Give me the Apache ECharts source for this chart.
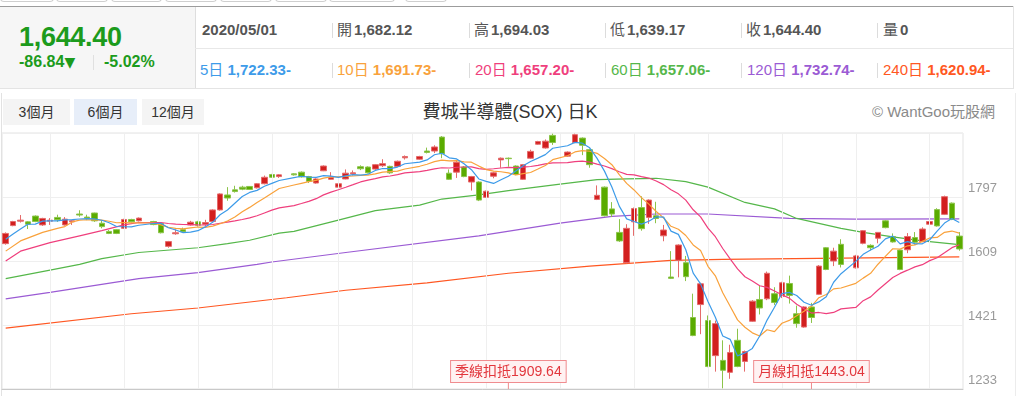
<!DOCTYPE html>
<html><head><meta charset="utf-8">
<script src="https://cdn.jsdelivr.net/npm/echarts/dist/echarts.min.js"></script>
<style>
body{margin:0;width:1023px;height:396px;overflow:hidden;background:#fff;position:relative;font-family:"Liberation Sans",Arial,"Noto Sans CJK TC",sans-serif}
.a{position:absolute;white-space:nowrap}
.tab{position:absolute;top:-4px;height:5px;border:1px solid #cfcfcf;border-top:none;border-radius:0 0 4px 4px;background:#fff}
.r1{top:21px;height:18px;line-height:18px;font-size:15px;color:#555}
.r2{top:61px;height:18px;line-height:18px;font-size:15px}
.r1 b,.r2 b{font-weight:bold}
.r1 b.v{margin-left:2px}
.dv{position:absolute;width:1px;background:#dcdcdc;height:15px}
.btn{position:absolute;top:99px;height:26px;line-height:26px;font-size:14px;color:#333;text-align:center;font-family:"Liberation Sans","Noto Sans CJK TC",sans-serif}
#chart{position:absolute;left:0;top:0;width:1023px;height:396px}
</style></head><body>
<div id="hdr"></div>
<div id="chart"></div>
<script>
// ---------- data ----------
const symbolTitle = '費城半導體(SOX) 日K';
const quoteDate = '2020/05/01';
const lastPrice = 1644.40, change = -86.84, changePct = -5.02;
const ohlcLabels = ['開','高','低','收','量'];
const ohlcValues = ['1,682.12','1,694.03','1,639.17','1,644.40','0'];
const maNames = ['5日','10日','20日','60日','120日','240日'];
const maValues = ['1,722.33','1,691.73','1,657.20','1,657.06','1,732.74','1,620.94'];
const maColors = ['#3d9be9','#f9a23c','#ef3f7d','#55b74a','#9b5bd4','#ff5722'];
const rangeButtons = ['3個月','6個月','12個月'];
const yTicks = [1233, 1421, 1609, 1797, 1985];

// weekdays 2019/11/01 .. 2020/05/01 (Jan 1 not listed)
const dates = (function(){
  const out=[]; const d=new Date(Date.UTC(2019,10,1)); const end=Date.UTC(2020,4,1);
  while(d.getTime()<=end){
    const w=d.getUTCDay();
    const s=d.getUTCFullYear()+'/'+String(d.getUTCMonth()+1).padStart(2,'0')+'/'+String(d.getUTCDate()).padStart(2,'0');
    if(w!==0&&w!==6&&s!=='2020/01/01') out.push(s);
    d.setUTCDate(d.getUTCDate()+1);
  }
  return out;
})();

const opens = [1660,1713,1726,1724,1741,1715,1726,1737,1715,1724,1747,1738,1750,1720,1696,1701,1705,1731,1727,null,
1725,1719,1652,1689,1701,1715,1724,1717,1725,1759,1803,1818,1826,1828,1824,1836,1863,1857,null,1865,
1870,1857,1838,1874,1849,1826,1850,1865,1886,1885,1879,1889,1887,1887,1912,null,1908,1932,1932,1973,
1867,1870,1885,1841,1841,1796,1858,1906,1911,1888,1849,1911,1952,1941,1978,null,1917,1957,1970,1936,
1790,1826,1762,1693,1604,1724,1766,1737,1742,1683,1562,1611,1604,1443,1481,1434,1331,1317,1282,1376,
1314,1432,1496,1498,1513,1505,1543,1454,1415,1474,1511,1648,1609,1658,null,1589,1661,1655,1676,1727,
1681,1641,1642,1678,1666,1717,1760,1746,1779,1682.12];
const closes = [1690,1725,1729,1717,1725,1734,1729,1730,1732,1727,1744,1735,1727,1710,1690,1690,1731,1724,1735,null,
1716,1692,1666,1692,1695,1723,1714,1722,1759,1806,1794,1813,1820,1819,1836,1855,1855,1862,null,1862,
1856,1843,1850,1888,1855,1836,1867,1868,1880,1868,1892,1895,1868,1902,1916,null,1916,1928,1944,1924,
1849,1899,1857,1857,1788,1814,1868,1911,1909.64,1863,1892,1931,1960,1961,1957,null,1929,1980,1949,1892,
1802,1742,1747,1668,1705,1763,1704,1788,1734,1700,1558,1656,1563,1390,1542,1299,1425,1288,1340,1299,
1343,1491,1471,1573,1487,1545,1508,1425,1474,1443.04,1594,1584,1638,1599,null,1624,1698,1648,1693,1707,
1665,1584,1681,1664,1703,1725,1712,1798,1731,1644.40];
const lows = [1657,1711,1722,1703,1723,1712,1715,1724,1713,1715,1739,1729,1724,1705,1688,1688,1703,1722,1725,null,
1714,1690,1648,1686,1692,1713,1710,1711,1722,1757,1786,1810,1817,1818,1822,1834,1853,1853,null,1860,
1854,1838,1836,1873,1848,1824,1849,1860,1876,1866,1877,1885,1865,1885,1907,null,1906,1925,1926,1911,
1847,1853,1855,1816,1785,1794,1852,1883,1886,1861,1847,1909,1950,1939,1950,null,1915,1955,1920,1883,
1788,1740,1738,1665,1602,1683,1698,1718,1720,1667,1556,1561,1550,1388,1394,1297,1284,1235,1263,1297,
1284,1430,1452,1494,1480,1500,1484,1413,1413,1427,1509,1582,1594,1590,null,1587,1658,1640,1661,1705,
1663,1582,1632,1657,1664,1717,1710,1744,1729,1639.17];
const highs = [1693,1727,1744,1726,1743,1736,1735,1745,1738,1730,1758,1745,1751,1729,1700,1703,1733,1733,1737,null,
1727,1721,1668,1702,1707,1727,1727,1730,1761,1808,1826,1830,1830,1829,1838,1860,1865,1864,null,1867,
1872,1859,1852,1890,1870,1839,1878,1875,1890,1887,1894,1908,1889,1904,1919,null,1918,1942,1949,1976,
1878,1906,1888,1859,1843,1816,1871,1913,1913,1890,1894,1936,1962,1966,1983,null,1931,1983,1972,1939,
1831,1828,1782,1732,1717,1766,1799,1790,1783,1715,1638,1658,1624,1513,1545,1449,1434,1376,1363,1410,
1346,1494,1537,1578,1532,1548,1566,1478,1476,1486,1597,1650,1648,1673,null,1627,1700,1658,1693,1729,
1690,1643,1691,1694,1708,1740,1764,1801,1781,1694.03];

const ma5Head  = [[0,1673],[1,1688],[2,1703],[3,1717]];
const ma10Head = [[0,1638],[2,1668],[5,1693],[7,1705],[8,1710]];
const ma20Head = [[0,1609],[2,1638],[6,1663],[10,1683],[13,1698],[16,1715],[18,1722]];
const ma60Pts  = [[0,1557],[6,1582],[10,1599],[13,1616],[18,1634],[26,1648],[30,1660],[33,1670],[37,1691],[39,1696],[45,1729],[50,1757],[56,1773],[59,1791],[64,1803],[68,1816],[75,1835],[80,1848],[84,1850],[88,1852],[92,1842],[95,1826],[100,1781],[104,1762],[107,1734],[113,1705],[116,1693],[120,1680],[124,1668],[129,1657]];
const ma120Pts = [[0,1498],[6,1517],[18,1557],[26,1575],[34,1599],[36,1606],[46,1634],[64,1683],[75,1720],[82,1740],[88,1747],[95,1747],[106,1734],[115,1732],[129,1733]];
const ma240Pts = [[0,1412],[17,1454],[26,1471],[38,1501],[46,1523],[57,1545],[68,1573],[79,1594],[90,1611],[97,1614],[110,1617],[129,1621]];

const gridSlots = [6,16,26,36,45,55,65,75,85,95,105,115,125];
const deductions = [{name:'季線扣抵', idx:68}, {name:'月線扣抵', idx:109}];

// ---------- header (HTML) ----------
(function(){
  const h=[];
  [[0,52],[56,106],[111,160],[165,215],[220,270],[275,325],[329,393],[405,445]].forEach(t=>h.push(`<div class="tab" style="left:${t[0]}px;width:${t[1]-t[0]}px"></div>`));
  h.push('<div class="a" style="left:0;top:6px;width:1013px;height:1px;background:#9c9c9c"></div>');
  h.push('<div class="a" style="left:0;top:7px;width:195px;height:81px;background:#f6f6f6;border-right:1px solid #dedede"></div>');
  h.push('<div class="a" style="left:195px;top:48px;width:818px;height:1px;background:#e8e8e8"></div>');
  h.push('<div class="a" style="left:0;top:88px;width:1013px;height:1px;background:#e4e4e4"></div>');
  h.push('<div class="a" style="left:1013px;top:6px;width:1px;height:83px;background:#e4e4e4"></div>');
  const green='#1c9b1c';
  const fmt=v=>v.toLocaleString('en-US',{minimumFractionDigits:2,maximumFractionDigits:2});
  h.push(`<div class="a" style="left:19px;top:22px;line-height:30px;font-size:27px;font-weight:bold;color:${green};letter-spacing:-0.3px">${fmt(lastPrice)}</div>`);
  h.push(`<div class="a" style="left:19px;top:53px;line-height:18px;font-size:16px;font-weight:bold;color:${green}">${change.toFixed(2)}<span style="font-family:'DejaVu Sans';font-size:14px">▼</span></div>`);
  h.push('<div class="dv" style="left:93px;top:55px;background:#e0e0e0"></div>');
  h.push(`<div class="a" style="left:104px;top:53px;line-height:18px;font-size:16px;font-weight:bold;color:${green}">${changePct.toFixed(2)}%</div>`);
  const cols=[337,474,610,746,883], divs=[332,469,605,741,877];
  h.push(`<div class="a r1" style="left:202px"><b>${quoteDate}</b></div>`);
  ohlcLabels.forEach((l,i)=>{
    h.push(`<div class="dv" style="left:${divs[i]}px;top:23px"></div>`);
    h.push(`<div class="a r1" style="left:${cols[i]}px">${l}<b class="v">${ohlcValues[i]}</b></div>`);
  });
  const cols2=[200,337,475,611,747,883];
  maNames.forEach((n,i)=>{
    if(i>0) h.push(`<div class="dv" style="left:${divs[i-1]}px;top:63px"></div>`);
    h.push(`<div class="a r2" style="left:${cols2[i]}px;color:${maColors[i]}">${n} <b>${maValues[i]}-</b></div>`);
  });
  // chart section chrome
  h.push('<div class="a" style="left:1px;top:93px;width:1px;height:303px;background:#e2e2e2"></div>');
  h.push('<div class="a" style="left:1015px;top:93px;width:1px;height:303px;background:#ececec"></div>');
  const bx=[[3,67,'#f4f4f4'],[74,63,'#e7eef9'],[142,62,'#f4f4f4']];
  rangeButtons.forEach((b,i)=>h.push(`<div class="btn" style="left:${bx[i][0]}px;width:${bx[i][1]}px;background:${bx[i][2]}">${b}</div>`));
  h.push(`<div class="a" style="left:0;width:1020px;text-align:center;top:101px;line-height:22px;font-size:18px;color:#333;font-family:'Liberation Sans','Noto Sans CJK TC',sans-serif">${symbolTitle}</div>`);
  h.push('<div class="a" style="left:872px;top:103px;line-height:18px;font-size:15px;color:#8a8a8a;font-family:\'Liberation Sans\',\'Noto Sans CJK TC\',sans-serif">© WantGoo玩股網</div>');
  document.getElementById('hdr').innerHTML=h.join('');
})();

// ---------- chart ----------
function movingAvg(n, head){
  const out=head.map(p=>p.slice()); const valid=[];
  closes.forEach((c,i)=>{
    if(c==null) return;
    valid.push(c);
    if(valid.length>=n){ const s=valid.slice(-n).reduce((a,b)=>a+b,0); out.push([i,+(s/n).toFixed(2)]); }
  });
  return out;
}
const candleData = dates.map((d,i)=> opens[i]==null ? '-' : [opens[i],closes[i],lows[i],highs[i]]);
const lineS=(name,data,color,z)=>({name,type:'line',data,symbol:'none',showSymbol:false,smooth:false,z:z||3,silent:true,
  lineStyle:{color,width:1.2},connectNulls:true,animation:false});

const chart = echarts.init(document.getElementById('chart'), null, {renderer:'canvas'});
chart.setOption({
  animation:false,
  grid:{left:2,top:133,width:961,height:256,show:true,borderColor:'#e3e3e3',borderWidth:1,backgroundColor:'transparent'},
  xAxis:{type:'category',data:dates,boundaryGap:true,axisLabel:{show:false},axisTick:{show:false},
    axisLine:{lineStyle:{color:'#c9c9c9',width:1}},splitLine:{show:false}},
  yAxis:{type:'value',position:'right',min:yTicks[0],max:yTicks[yTicks.length-1],interval:yTicks[1]-yTicks[0],scale:true,
    axisLine:{show:false},axisTick:{show:false},
    axisLabel:{color:'#9a9a9a',fontSize:13,margin:5,verticalAlign:'bottom',padding:[0,0,2,0],showMaxLabel:false,fontFamily:'Liberation Sans',
      formatter:v=>String(v)},
    splitLine:{lineStyle:{color:'#efefef',width:1}}},
  series:[
    {name:'grid',type:'line',data:[],silent:true,z:1,
      markLine:{silent:true,symbol:['none','none'],label:{show:false},animation:false,
        lineStyle:{color:'#efefef',width:1,type:'solid'},
        data:gridSlots.map(i=>({xAxis:i}))}},
    lineS('MA240',ma240Pts,maColors[5]),
    lineS('MA120',ma120Pts,maColors[4]),
    lineS('MA60',ma60Pts,maColors[3]),
    {name:'K',type:'candlestick',data:candleData,barWidth:6,z:4,silent:true,
      itemStyle:{color:'#d21f1f',color0:'#5aab00',borderColor:'#e56b6b',borderColor0:'#8cc44a',borderWidth:1},
      markPoint:{silent:true,animation:false,symbol:'rect',symbolSize:[1,7],symbolOffset:[0,-3.5],
        itemStyle:{color:'#ee8a8d'},
        label:{show:true,position:'top',distance:0,color:'#e2363c',fontSize:14,fontFamily:"'Liberation Sans','Noto Sans CJK TC',sans-serif",
          backgroundColor:'#fff2f2',borderColor:'#f08c8f',borderWidth:1,padding:[4,4,3,4]},
        data:deductions.map(d=>({coord:[d.idx,yTicks[0]],value:closes[d.idx],
          label:{formatter:d.name+closes[d.idx].toFixed(2)}}))}},
    lineS('MA20',movingAvg(20,ma20Head),maColors[2],5),
    lineS('MA10',movingAvg(10,ma10Head),maColors[1],5),
    lineS('MA5',movingAvg(5,ma5Head),maColors[0],5)
  ]
});
</script>
</body></html>
